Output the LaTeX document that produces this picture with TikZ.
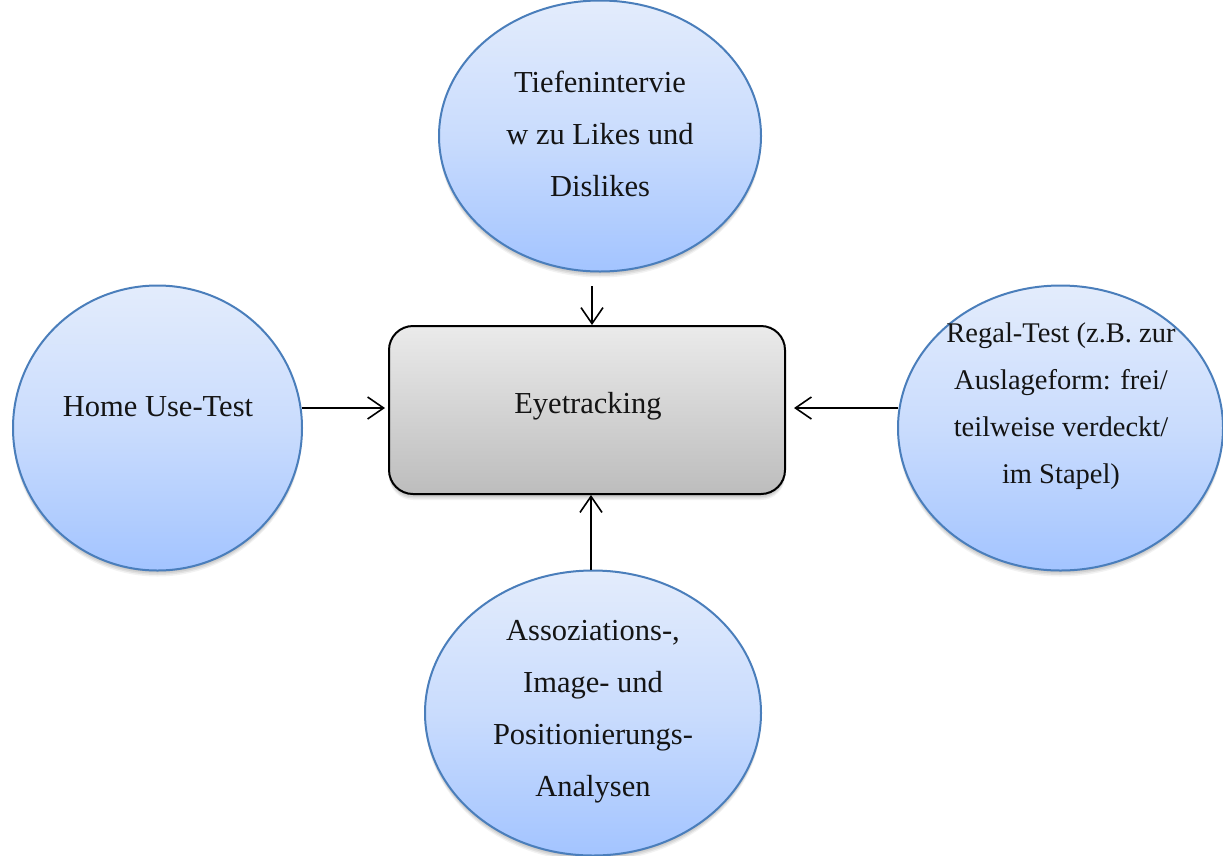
\documentclass[tikz,border=0pt]{standalone}
\usepackage{fontspec}
\setmainfont{Liberation Serif}
\usetikzlibrary{shapes.geometric,arrows.meta,shadows}
\definecolor{edgeblue}{HTML}{4A7EBB}
\definecolor{toptop}{HTML}{E3ECFC}
\definecolor{botbot}{HTML}{A3C4FF}
\definecolor{inktext}{HTML}{141414}
\tikzset{
 x=1pt,y=-1pt,
 softshadow/.style={
  general shadow={fill=black,opacity=.07,shadow xshift=0pt,shadow yshift=-1.5pt},
  general shadow={fill=black,opacity=.07,shadow xshift=0pt,shadow yshift=-3pt},
  general shadow={fill=black,opacity=.07,shadow xshift=0pt,shadow yshift=-4.5pt},
  general shadow={fill=black,opacity=.05,shadow xshift=0pt,shadow yshift=-6pt}},
 bub/.style={ellipse,draw=edgeblue,line width=2pt,top color=toptop,bottom color=botbot,middle color=toptop!60!botbot,inner sep=0pt,align=center,softshadow},
 lab/.style={font=\fontsize{30.5}{52}\selectfont,align=center,text=inktext},
 labsmall/.style={font=\fontsize{28.5}{47}\selectfont,align=center,text=inktext},
 conn/.style={draw=black,line width=1.6pt,-{Straight Barb[length=16pt,width=22pt,line width=1.6pt]}}
}
\begin{document}
\begin{tikzpicture}
\useasboundingbox (0,0) rectangle (1223,855);
\node[bub,minimum width=322pt,minimum height=271pt] (a) at (600,136) {};
\node[lab] (at1) at (600,134) {Tiefenintervie\\w zu Likes und\\Dislikes};
\node[bub,minimum width=289pt,minimum height=285pt] (b) at (157.5,428) {};
\node[lab] (bt1) at (158,407) {Home Use-Test};
\node[bub,minimum width=325pt,minimum height=285pt] (c) at (1060.5,428) {};
\node[labsmall] (ct1) at (1061,406) {Regal-Test (z.B. zur\\Auslageform: frei/\\teilweise verdeckt/\\im Stapel)};
\node[bub,minimum width=336pt,minimum height=285pt] (d) at (593,713) {};
\node[lab] (dt1) at (593,712) {Assoziations-,\\Image- und\\Positionierungs-\\Analysen};
\node[draw=black,line width=2pt,rounded corners=24pt,minimum width=396pt,minimum height=168pt,top color=white!92!black,bottom color=black!26,inner sep=0pt,softshadow] (e) at (587,410) {};
\node[lab] (et1) at (588,406) {Eyetracking};
\coordinate (at) at (592,286);\coordinate (ah) at (592,325);
\coordinate (bt) at (302,408);\coordinate (bh) at (385,408);
\coordinate (ct) at (898,408);\coordinate (ch) at (794,408);
\coordinate (dt) at (591,570);\coordinate (dh) at (591,495);
\draw[conn] (at)--(ah);
\draw[conn] (bt)--(bh);
\draw[conn] (ct)--(ch);
\draw[conn] (dt)--(dh);
\end{tikzpicture}
\end{document}
